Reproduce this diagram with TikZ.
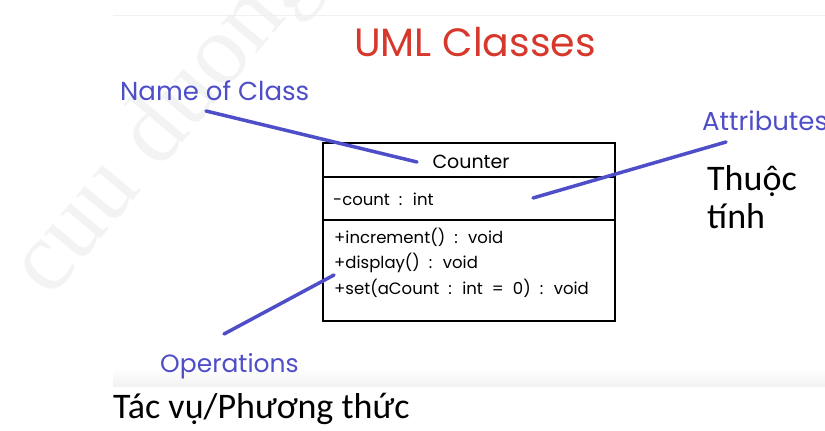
\documentclass[tikz,border=0pt]{standalone}
\usepackage{fontspec}
\setmainfont{Carlito}
\newfontfamily\hand{Poppins}
\newfontfamily\wmfont{Liberation Serif}
\newcommand\memberfont{\hand\fontsize{16.5}{18}\selectfont\spaceskip=9pt plus 1pt\relax}
\definecolor{umlblue}{RGB}{78,78,200}
\definecolor{umlred}{RGB}{214,56,44}
\definecolor{wmgray}{RGB}{243,243,243}
\tikzset{
  lbl/.style={anchor=base west, inner sep=0pt, text=umlblue, font=\hand\fontsize{26}{30}\selectfont},
  pointer/.style={draw=umlblue, line width=3.5pt, line cap=round},
  member/.style={anchor=base west, inner sep=0pt, font=\memberfont},
  viet/.style={anchor=base west, inner sep=0pt, font=\fontsize{36}{40}\selectfont},
}
\begin{document}
\begin{tikzpicture}[x=1pt,y=-1pt]
\useasboundingbox (0,0) rectangle (825,431);
\begin{scope}
\clip (0,0) rectangle (825,431);
% watermark
\node[anchor=base west, inner sep=0pt, rotate=50, text=wmgray, font=\wmfont\fontsize{100}{110}\selectfont] (wm) at (50,300) {cuu duong};
\end{scope}
% faint screenshot frame
\draw[gray!12, line width=1pt] (113,15) -- (825,15);
\shade[top color=white, bottom color=gray!10] (113,368) rectangle (825,386);
% title
\node[anchor=base, inner sep=0pt, text=umlred, font=\hand\fontsize{39.5}{44}\selectfont] (title) at (475,56) {UML Classes};
% class box
\draw[line width=2.8pt] (323,143) rectangle (615,321);
\coordinate (d1l) at (323,177); \coordinate (d1r) at (615,177);
\coordinate (d2l) at (323,220); \coordinate (d2r) at (615,220);
\draw[line width=1.8pt] (d1l) -- (d1r);
\draw[line width=1.8pt] (d2l) -- (d2r);
\node[anchor=base, inner sep=0pt, font=\hand\fontsize{19}{22}\selectfont] (cname) at (471,168) {Counter};
\node[member] (attr) at (333,205) {-count : int};
\node[member] (op1) at (334,243) {+increment() : void};
\node[member] (op2) at (334,268) {+display() : void};
\node[member] (op3) at (334,294) {+set(aCount : int = 0) : void};
% labels
\node[lbl] (lname) at (120,100) {Name of Class};
\node[lbl] (lattr) at (702,130) {Attributes};
\node[lbl, font=\hand\fontsize{25}{30}\selectfont] (lops) at (160,372) {Operations};
% pointer ends
\coordinate (pn1) at (206,111); \coordinate (pn2) at (417,162);
\coordinate (pa1) at (726,142); \coordinate (pa2) at (533,198);
\coordinate (po1) at (224,334); \coordinate (po2) at (334,275);
\draw[pointer] (pn1) -- (pn2);
\draw[pointer] (pa1) -- (pa2);
\draw[pointer] (po1) -- (po2);
% Vietnamese notes
\node[viet] (v1) at (707,190) {Thuộc};
\node[viet] (v2) at (707,228) {tính};
\node[viet] (v3) at (113,418) {Tác vụ/Phương thức};
\end{tikzpicture}
\end{document}
